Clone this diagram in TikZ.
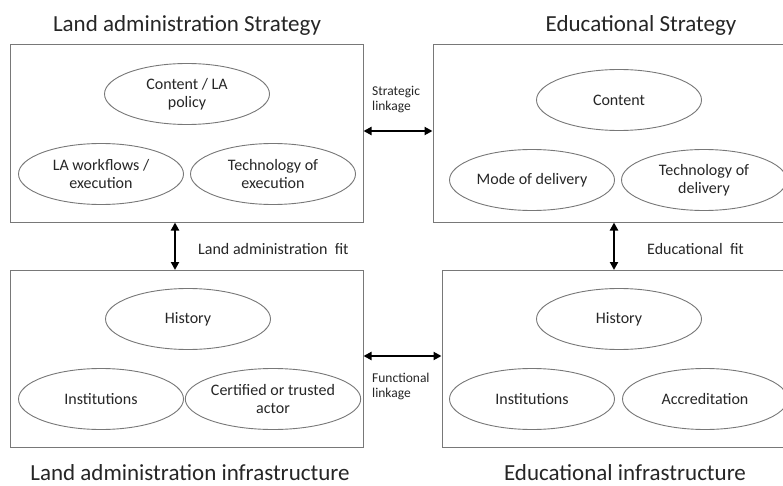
\documentclass[tikz,border=0pt]{standalone}
\usepackage{fontspec}
\setmainfont{Carlito}
\usetikzlibrary{shapes.geometric,arrows.meta}
\definecolor{boxgray}{HTML}{787878}
\definecolor{txt}{HTML}{262626}
\tikzset{
  panel/.style={draw=boxgray, line width=1pt, minimum width=#1, minimum height=177pt, inner sep=0pt},
  oval/.style={draw=boxgray, line width=0.9pt, ellipse, minimum width=165pt, minimum height=61pt, inner sep=0pt, align=center, text=txt, font=\fontsize{16}{18}\selectfont},
  title/.style={text=txt, font=\fontsize{23}{28}\selectfont, inner sep=0pt},
  fitlabel/.style={text=txt, font=\fontsize{16}{18}\selectfont, anchor=west, inner sep=0pt},
  linklabel/.style={text=txt, font=\fontsize{13.5}{15}\selectfont, anchor=north west, align=left, inner sep=0pt},
  link/.style={{Triangle[length=8pt,width=8pt]}-{Triangle[length=8pt,width=8pt]}, line width=2.2pt, black}
}
\begin{document}
\begin{tikzpicture}[x=1pt,y=-1pt]
\clip (0,0) rectangle (783,486);
\fill[white] (0,0) rectangle (783,486);
% panels
\node[panel=353pt] (tl) at (186.5,133.5) {};
\node[panel=367pt] (tr) at (616.5,133.5) {};
\node[panel=353pt] (bl) at (186.5,359) {};
\node[panel=358pt] (br) at (621,359) {};
% titles
\node[title] (t1) at (187,25) {Land administration Strategy};
\node[title] (t2) at (641,25) {Educational Strategy};
\node[title] (t3) at (190,473) {Land administration infrastructure};
\node[title] (t4) at (625,473) {Educational infrastructure};
% top-left ovals
\node[oval] (e1) at (187,94) {Content / LA\\policy};
\node[oval] (e2) at (101,174) {LA workflows /\\execution};
\node[oval] (e3) at (273,174) {Technology of\\execution};
% top-right ovals
\node[oval] (e4) at (619,100) {Content};
\node[oval] (e5) at (532,180) {Mode of delivery};
\node[oval] (e6) at (704,180) {Technology of\\delivery};
% bottom-left ovals
\node[oval] (e7) at (188,319) {History};
\node[oval] (e8) at (101,399) {Institutions};
\node[oval] (e9) at (273,399) {Certified or trusted\\actor};
% bottom-right ovals
\node[oval] (e10) at (619,319) {History};
\node[oval] (e11) at (532,399) {Institutions};
\node[oval] (e12) at (705,399) {Accreditation};
% connectors
\draw[link] ([yshift=2.5pt]tl.east) -- ([yshift=2.5pt]tl.east -| tr.west);
\draw[link] ([yshift=3pt]bl.east) -- ([yshift=3pt]bl.east -| br.west);
\draw[link] ([xshift=-11.5pt]tl.south) -- ([xshift=-11.5pt]tl.south |- bl.north);
\draw[link] ([xshift=-2.5pt]tr.south) -- ([xshift=-2.5pt]tr.south |- br.north);
% labels
\node[linklabel] (l1) at (372,86) {Strategic\\linkage};
\node[linklabel] (l2) at (372,373) {Functional\\linkage};
\node[fitlabel] (l3) at (198,249) {Land administration\ \ fit};
\node[fitlabel] (l4) at (647,249) {Educational\ \ fit};
\end{tikzpicture}
\end{document}
